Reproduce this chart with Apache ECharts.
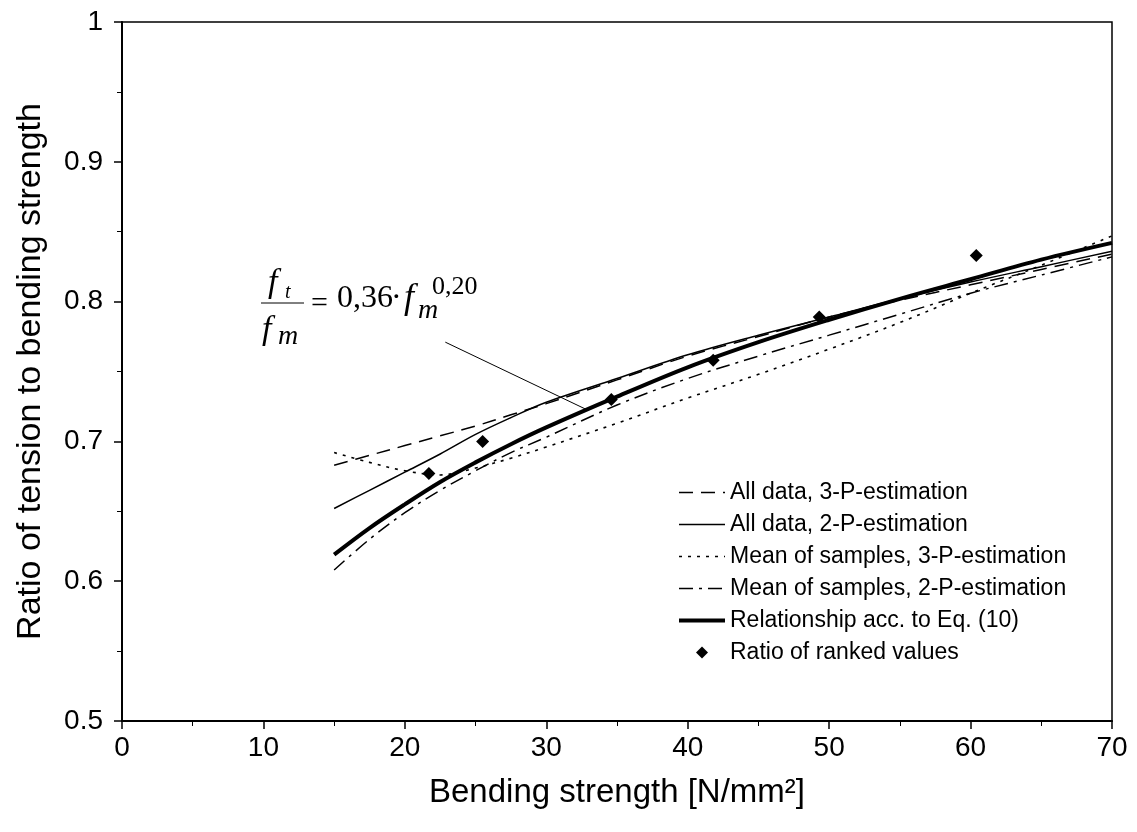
<!DOCTYPE html>
<html>
<head>
<meta charset="utf-8">
<script src="https://cdn.jsdelivr.net/npm/echarts@6/dist/echarts.min.js"></script>
<style>html,body{margin:0;padding:0;background:#fff}#c{width:1137px;height:832px}</style>
</head>
<body>
<div id="c"></div>
<script>
// ---- data ----
const xCurve = [15, 17.5, 20, 22.5, 25, 27.5, 30, 35, 40, 45, 50, 55, 60, 65, 70];
const allData3P  = [0.683, 0.690, 0.697, 0.704, 0.711, 0.719, 0.727, 0.744, 0.761, 0.775, 0.789, 0.801, 0.812, 0.823, 0.834];
const allData2P  = [0.652, 0.665, 0.678, 0.691, 0.705, 0.717, 0.728, 0.745, 0.762, 0.776, 0.789, 0.802, 0.814, 0.825, 0.836];
const mean3P     = [0.692, 0.685, 0.679, 0.676, 0.681, 0.688, 0.696, 0.713, 0.731, 0.748, 0.766, 0.785, 0.806, 0.826, 0.847];
const mean2P     = [0.608, 0.630, 0.649, 0.665, 0.679, 0.692, 0.703, 0.726, 0.745, 0.761, 0.776, 0.791, 0.806, 0.819, 0.832];
const eq10       = [0.619, 0.638, 0.655, 0.671, 0.685, 0.698, 0.710, 0.732, 0.753, 0.771, 0.787, 0.802, 0.816, 0.830, 0.842];
const rankedX    = [21.7, 25.5, 34.6, 41.8, 49.3, 60.4];
const rankedY    = [0.677, 0.700, 0.730, 0.758, 0.789, 0.833];
const seriesNames = [
  'All data, 3-P-estimation',
  'All data, 2-P-estimation',
  'Mean of samples, 3-P-estimation',
  'Mean of samples, 2-P-estimation',
  'Relationship acc. to Eq. (10)',
  'Ratio of ranked values'
];
const leaderStart = [22.86, 0.771];
const leaderEnd   = [32.8, 0.723];

const pair = (xs, ys) => xs.map((x, i) => [x, ys[i]]);
const SANS = '"Liberation Sans", Arial, sans-serif';
const SERIF = '"Liberation Serif", "Times New Roman", serif';

const styles = [
  { type: [14, 8], width: 1.5 },
  { type: 'solid', width: 1.5 },
  { type: [3, 6], width: 1.6 },
  { type: [14, 6, 3, 6], width: 1.5 },
  { type: 'solid', width: 4 }
];
const curveData = [allData3P, allData2P, mean3P, mean2P, eq10];

const chart = echarts.init(document.getElementById('c'));
const series = curveData.map((ys, i) => ({
  name: seriesNames[i], type: 'line', data: pair(xCurve, ys), smooth: 0.35,
  symbol: 'none', showSymbol: false, silent: true,
  lineStyle: { color: '#000', width: styles[i].width, type: styles[i].type },
  itemStyle: { color: '#000' }, z: 3
}));
series[4].markLine = {
  silent: true, symbol: 'none', label: { show: false },
  lineStyle: { color: '#000', width: 1, type: 'solid' },
  data: [[{ coord: leaderStart }, { coord: leaderEnd }]]
};
series.push({
  name: seriesNames[5], type: 'scatter', data: pair(rankedX, rankedY),
  symbol: 'diamond', symbolSize: 13, itemStyle: { color: '#000', opacity: 1 }, z: 5
});

const legendData = seriesNames.map((name, i) => i < 5
  ? { name, itemStyle: { opacity: 0 }, lineStyle: { color: '#000', width: styles[i].width, type: styles[i].type } }
  : { name, icon: 'path://M0,-1L1,0L0,1L-1,0Z', itemStyle: { color: '#000', opacity: 1 } });

const txt = (text, x, y, size, italic, align) => ({
  type: 'text', x, y, silent: true, z: 10,
  style: { text, fill: '#000', fontFamily: SERIF, fontSize: size,
           fontStyle: italic ? 'italic' : 'normal', align: align || 'left', verticalAlign: 'middle' }
});

chart.setOption({
  backgroundColor: '#fff',
  animation: false,
  grid: { left: 122, right: 25, top: 22, bottom: 111, show: true, borderColor: '#000', borderWidth: 1.5,
          containLabel: false, outerBoundsMode: 'none' },
  legend: {
    orient: 'vertical', left: 677, top: 481, padding: 0,
    itemWidth: 46, itemHeight: 12, itemGap: 9, symbolKeepAspect: true,
    textStyle: { color: '#000', fontSize: 23, fontFamily: SANS },
    data: legendData
  },
  xAxis: {
    type: 'value', min: 0, max: 70, interval: 10,
    name: 'Bending strength [N/mm²]', nameLocation: 'middle', nameGap: 55,
    nameTextStyle: { color: '#000', fontSize: 33, fontFamily: SANS },
    axisLine: { lineStyle: { color: '#000', width: 2 } },
    axisTick: { inside: false, length: 8, lineStyle: { color: '#000', width: 1.5 } },
    minorTick: { show: true, splitNumber: 2, length: 5, lineStyle: { color: '#000', width: 1 } },
    axisLabel: { color: '#000', fontSize: 28, fontFamily: SANS, margin: 13 },
    splitLine: { show: false }
  },
  yAxis: {
    type: 'value', min: 0.5, max: 1, interval: 0.1,
    name: 'Ratio of tension to bending strength', nameLocation: 'middle', nameGap: 74,
    nameTextStyle: { color: '#000', fontSize: 34, fontFamily: SANS },
    axisLine: { lineStyle: { color: '#000', width: 2 } },
    axisTick: { inside: false, length: 8, lineStyle: { color: '#000', width: 1.5 } },
    minorTick: { show: true, splitNumber: 2, length: 5, lineStyle: { color: '#000', width: 1 } },
    axisLabel: { color: '#000', fontSize: 28, fontFamily: SANS, margin: 19,
                 formatter: v => (Math.abs(v - 1) < 1e-9 ? '1' : v.toFixed(1)) },
    splitLine: { show: false }
  },
  series,
  graphic: [
    txt('f', 268, 283, 34, true),
    txt('t', 285, 293, 20, true),
    { type: 'line', silent: true, z: 10, shape: { x1: 261, y1: 303, x2: 304, y2: 303 }, style: { stroke: '#000', lineWidth: 1 } },
    txt('f', 262, 330, 34, true),
    txt('m', 278, 337, 28, true),
    txt('=', 311, 304, 30, false),
    txt('0,36', 337, 299, 32, false),
    txt('·', 391, 299, 32, false),
    txt('f', 404, 299, 36, true),
    txt('m', 418, 311, 28, true),
    txt('0,20', 432, 287, 26, false)
  ]
});
</script>
</body>
</html>
